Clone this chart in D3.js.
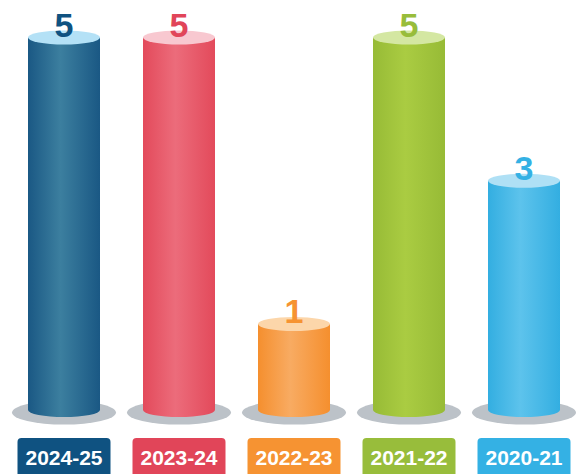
<!DOCTYPE html>
<html>
<head>
<meta charset="utf-8">
<script src="https://cdn.jsdelivr.net/npm/d3@7"></script>
<style>
  html, body { margin: 0; padding: 0; background: #ffffff; }
  svg { display: block; }
</style>
</head>
<body>
<div id="chart"></div>
<script>
// Season labels and counts, left to right
const seasons = ["2024-25", "2023-24", "2022-23", "2021-22", "2020-21"];
const counts = [5, 5, 1, 5, 3];

// Per-season palette: [edge, highlight, cap, label/box]
const edgeColors = ["#1a5884", "#e34a5b", "#f58f2e", "#97bb36", "#33aee1"];
const lightColors = ["#3c7f9f", "#ec6c7b", "#f8ab62", "#aacc42", "#5dc3ec"];
const capColors = ["#b4e1f6", "#f8c8d0", "#fcd6aa", "#d4e7a2", "#afe0f5"];
const boxColors = ["#0f5281", "#e14559", "#f69332", "#98bd3b", "#34b1e4"];

const width = 576, height = 474;
const rx = 36, ry = 7;

const svg = d3.select("#chart").append("svg")
  .attr("width", width)
  .attr("height", height);

const x = d3.scalePoint()
  .domain(seasons)
  .range([64, 524]);

const y = d3.scaleLinear()
  .domain([0, 5])
  .range([395.6, 37.5]);

// Cylinders stand on a floor slightly below the zero line
const floorY = y(0) + 14.5;

const defs = svg.append("defs");
seasons.forEach((s, i) => {
  const g = defs.append("linearGradient")
    .attr("id", "body" + i)
    .attr("x1", "0%").attr("x2", "100%")
    .attr("y1", "0%").attr("y2", "0%");
  g.append("stop").attr("offset", "0%").attr("stop-color", edgeColors[i]);
  g.append("stop").attr("offset", "45%").attr("stop-color", lightColors[i]);
  g.append("stop").attr("offset", "100%").attr("stop-color", edgeColors[i]);
});

const data = seasons.map((s, i) => ({ season: s, value: counts[i], i }));

const bars = svg.selectAll("g.bar")
  .data(data)
  .join("g")
  .attr("class", "bar");

// Floor shadow
bars.append("ellipse")
  .attr("cx", d => x(d.season))
  .attr("cy", floorY + 2.5)
  .attr("rx", 52)
  .attr("ry", 12)
  .attr("fill", "#bcc2c8");

// Cylinder body
bars.append("path")
  .attr("d", d => {
    const cx = x(d.season), top = y(d.value);
    return `M${cx - rx},${top} L${cx - rx},${floorY} ` +
      `A${rx},${ry} 0 0 0 ${cx + rx},${floorY} L${cx + rx},${top} Z`;
  })
  .attr("fill", d => `url(#body${d.i})`);

// Cylinder cap
bars.append("ellipse")
  .attr("cx", d => x(d.season))
  .attr("cy", d => y(d.value))
  .attr("rx", rx)
  .attr("ry", ry)
  .attr("fill", d => capColors[d.i]);

// Value numbers
bars.append("text")
  .attr("x", d => x(d.season))
  .attr("y", d => y(d.value) - 1)
  .attr("text-anchor", "middle")
  .attr("font-family", "Liberation Sans, Arial, sans-serif")
  .attr("font-weight", "bold")
  .attr("font-size", 34)
  .attr("fill", d => boxColors[d.i])
  .text(d => d.value);

// Season label boxes
bars.append("rect")
  .attr("x", d => x(d.season) - 46.5)
  .attr("y", 438)
  .attr("width", 93)
  .attr("height", 50)
  .attr("rx", 4)
  .attr("fill", d => boxColors[d.i]);

bars.append("text")
  .attr("x", d => x(d.season))
  .attr("y", 465)
  .attr("text-anchor", "middle")
  .attr("font-family", "Liberation Sans, Arial, sans-serif")
  .attr("font-weight", "bold")
  .attr("font-size", 21)
  .attr("fill", "#ffffff")
  .text(d => d.season);
</script>
</body>
</html>
